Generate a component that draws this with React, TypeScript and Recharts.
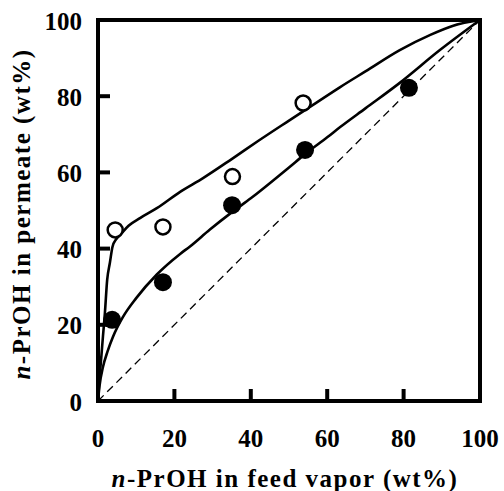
import React from 'react';
import {
  ComposedChart,
  Line,
  Scatter,
  XAxis,
  YAxis,
  ReferenceArea,
  ReferenceLine,
} from 'recharts';

// feed vapor (x) vs permeate (y), wt% n-PrOH
const openFeed = [4.5, 17, 35.2, 53.7];
const openPerm = [44.9, 45.7, 58.9, 78.2];

const filledFeed = [3.7, 17, 35.1, 54.2, 81.4];
const filledPerm = [21.3, 31.2, 51.4, 65.9, 82.2];

// fitted curves
const upperFeed = [0, 0.4, 0.9, 1.3, 1.8, 2.4, 3.1, 3.8, 4.8, 5.8, 8, 11, 15.4, 21.5, 27.5, 35, 42, 50, 57, 63.4, 70, 79, 87, 93, 100];
const upperPerm = [0, 6, 12, 17, 23, 31.8, 36.2, 40.5, 42.5, 43.6, 46, 48, 50.6, 54.9, 58.5, 63.5, 68.3, 73.6, 78.2, 82.4, 86.5, 92.1, 96.1, 98.5, 100];

const lowerFeed = [0, 0.4, 1.3, 2.5, 3.9, 6.5, 10, 15.4, 21.5, 24, 29.3, 35, 40, 50, 54.2, 60, 63.4, 70, 79, 89.5, 100];
const lowerPerm = [0, 4, 8.9, 13, 16.8, 22, 27, 33.2, 38.6, 40.5, 45, 49.5, 53.2, 61.3, 64.8, 69.2, 71.9, 76.8, 83.5, 92.1, 100];

const tickValues = [0, 20, 40, 60, 80, 100];

const zip = (xs: number[], ys: number[]) => xs.map((x, i) => ({ x, y: ys[i] }));

const textStyle: React.CSSProperties = {
  fontFamily: "'Liberation Serif', 'DejaVu Serif', serif",
  fontWeight: 700,
  fontSize: 25,
};

const XTick = ({ x, y, payload }: any) => (
  <g>
    <line x1={x} y1={y} x2={x} y2={y - 12} stroke="#000" strokeWidth={4} />
    <text x={x} y={y + 37} textAnchor="middle" dominantBaseline="central" style={textStyle} fill="#000">
      {payload.value}
    </text>
  </g>
);

const YTick = ({ x, y, payload }: any) => (
  <g>
    <line x1={x} y1={y} x2={x + 12} y2={y} stroke="#000" strokeWidth={4} />
    <text x={x - 16} y={y + 1} textAnchor="end" dominantBaseline="central" style={textStyle} fill="#000">
      {payload.value}
    </text>
  </g>
);

const OpenDot = ({ cx, cy }: any) => (
  <circle cx={cx} cy={cy} r={7.5} fill="#fff" stroke="#000" strokeWidth={2.5} />
);

const FilledDot = ({ cx, cy }: any) => <circle cx={cx} cy={cy} r={9} fill="#000" />;

export default function App() {
  return (
    <div style={{ position: 'absolute', left: 0, top: 0, background: '#fff' }}>
      <ComposedChart
        width={504}
        height={491}
        margin={{ top: 20, right: 24, bottom: 40, left: 38 }}
      >
        <XAxis
          type="number"
          dataKey="x"
          domain={[0, 100]}
          ticks={tickValues}
          axisLine={false}
          tickLine={false}
          tickSize={0}
          tickMargin={0}
          height={50}
          tick={<XTick />}
          allowDataOverflow
        />
        <YAxis
          type="number"
          dataKey="y"
          domain={[0, 100]}
          ticks={tickValues}
          axisLine={false}
          tickLine={false}
          tickSize={0}
          tickMargin={0}
          width={60}
          tick={<YTick />}
          allowDataOverflow
        />
        <ReferenceLine
          segment={[{ x: 0, y: 0 }, { x: 100, y: 100 }]}
          stroke="#000"
          strokeWidth={1.3}
          strokeDasharray="8 5"
        />
        <Line
          data={zip(upperFeed, upperPerm)}
          dataKey="y"
          type="monotone"
          stroke="#000"
          strokeWidth={2.6}
          dot={false}
          isAnimationActive={false}
        />
        <Line
          data={zip(lowerFeed, lowerPerm)}
          dataKey="y"
          type="monotone"
          stroke="#000"
          strokeWidth={2.6}
          dot={false}
          isAnimationActive={false}
        />
        <Scatter
          data={zip(openFeed, openPerm)}
          dataKey="y"
          shape={<OpenDot />}
          isAnimationActive={false}
        />
        <Scatter
          data={zip(filledFeed, filledPerm)}
          dataKey="y"
          shape={<FilledDot />}
          isAnimationActive={false}
        />
        <ReferenceArea
          x1={0}
          x2={100}
          y1={0}
          y2={100}
          fill="none"
          stroke="#000"
          strokeWidth={4}
        />
      </ComposedChart>
      <svg
        width={504}
        height={491}
        style={{ position: 'absolute', left: 0, top: 0, pointerEvents: 'none' }}
      >
        <text
          x={285}
          y={478}
          textAnchor="middle"
          dominantBaseline="central"
          style={{ ...textStyle, letterSpacing: 1.5 }}
          fill="#000"
        >
          <tspan style={{ fontStyle: 'italic' }}>n</tspan>-PrOH in feed vapor (wt%)
        </text>
        <text
          x={21}
          y={214}
          textAnchor="middle"
          dominantBaseline="central"
          transform="rotate(-90 21 214)"
          style={{ ...textStyle, letterSpacing: 1.5 }}
          fill="#000"
        >
          <tspan style={{ fontStyle: 'italic' }}>n</tspan>-PrOH in permeate (wt%)
        </text>
      </svg>
    </div>
  );
}
